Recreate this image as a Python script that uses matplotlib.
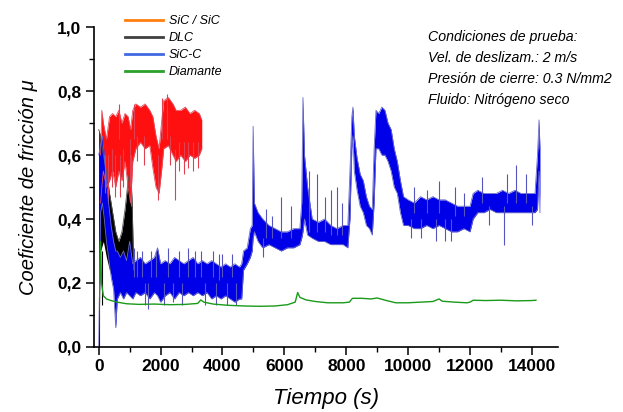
import matplotlib
matplotlib.use("Agg")
import matplotlib.pyplot as plt
from matplotlib.lines import Line2D
from matplotlib.ticker import MultipleLocator, FuncFormatter

plt.rcParams["font.family"] = ["Liberation Sans", "DejaVu Sans"]

# --- datos (tiempo en s, coeficiente de friccion) ---

# SiC / SiC (banda roja: limite inferior y superior)
sic_t = [60, 100, 150, 250, 350, 450, 550, 650, 750, 850, 950, 1030, 1100, 1200,
         1350, 1500, 1650, 1750, 1850, 1950, 2030, 2100, 2250, 2400, 2500, 2650,
         2800, 2950, 3100, 3250, 3330]
sic_lo = [0.45, 0.50, 0.55, 0.50, 0.52, 0.55, 0.50, 0.55, 0.52, 0.58, 0.50, 0.45,
          0.58, 0.62, 0.64, 0.62, 0.63, 0.56, 0.50, 0.48, 0.55, 0.62, 0.63, 0.60,
          0.58, 0.60, 0.58, 0.60, 0.59, 0.60, 0.62]
sic_hi = [0.60, 0.74, 0.70, 0.65, 0.72, 0.73, 0.72, 0.74, 0.70, 0.73, 0.72, 0.68,
          0.74, 0.76, 0.75, 0.76, 0.74, 0.72, 0.66, 0.62, 0.70, 0.77, 0.78, 0.76,
          0.74, 0.74, 0.75, 0.73, 0.74, 0.73, 0.71]
sic_pico_t = [200, 300, 420, 520, 700, 800, 1000, 1050, 1250, 1450, 1900, 2300,
              2450, 2600, 2750, 2900, 3050, 3200, 2050, 2200, 1150, 650]
sic_pico_lo = [0.48, 0.45, 0.50, 0.47, 0.47, 0.50, 0.50, 0.44, 0.58, 0.57, 0.46,
               0.57, 0.46, 0.55, 0.54, 0.56, 0.55, 0.56, 0.65, 0.65, 0.65, 0.65]
sic_pico_hi = [0.60, 0.60, 0.62, 0.60, 0.60, 0.62, 0.65, 0.60, 0.66, 0.66, 0.60,
               0.66, 0.62, 0.64, 0.64, 0.64, 0.64, 0.64, 0.78, 0.79, 0.76, 0.76]

# DLC
dlc_t = [0, 60, 150, 250, 350, 450, 550, 650, 750, 850, 950, 1030, 1080, 1130]
dlc_lo = [0.0, 0.30, 0.33, 0.28, 0.24, 0.22, 0.20, 0.20, 0.20, 0.21, 0.22, 0.24, 0.22, 0.19]
dlc_hi = [0.68, 0.66, 0.60, 0.55, 0.48, 0.42, 0.36, 0.33, 0.36, 0.43, 0.52, 0.56, 0.45, 0.24]

# SiC-C
sicc_t = [0, 60, 120, 180, 250, 320, 400, 480, 550, 600, 700, 800, 900, 1000,
          1100, 1200, 1350, 1500, 1650, 1800, 1900, 2000, 2150, 2300, 2450, 2600,
          2750, 2900, 3050, 3200, 3350, 3500, 3650, 3800, 3950, 4100, 4250, 4400,
          4550, 4620, 4680, 4800, 4900, 4960, 4990, 5030, 5150, 5300, 5500, 5700,
          5900, 6100, 6300, 6500, 6560, 6600, 6650, 6750, 6900, 7100, 7300, 7500,
          7700, 7900, 8050, 8120, 8180, 8215, 8260, 8350, 8450, 8550, 8650, 8750,
          8840, 8900, 8960, 9050, 9150, 9250, 9350, 9450, 9550, 9650, 9750, 9850,
          10000, 10200, 10400, 10600, 10800, 11000, 11200, 11400, 11600, 11800,
          12000, 12100, 12250, 12450, 12650, 12850, 13050, 13250, 13450, 13650,
          13850, 14100, 14180, 14230, 14260]
sicc_lo = [0.0, 0.42, 0.45, 0.40, 0.33, 0.28, 0.22, 0.18, 0.06, 0.15, 0.17, 0.15,
           0.17, 0.16, 0.15, 0.17, 0.16, 0.17, 0.15, 0.17, 0.16, 0.14, 0.16, 0.17,
           0.15, 0.17, 0.16, 0.17, 0.16, 0.17, 0.16, 0.17, 0.15, 0.16, 0.15, 0.16,
           0.15, 0.14, 0.15, 0.15, 0.24, 0.26, 0.28, 0.30, 0.34, 0.36, 0.33, 0.31,
           0.32, 0.31, 0.30, 0.31, 0.31, 0.32, 0.34, 0.36, 0.40, 0.35, 0.34, 0.33,
           0.33, 0.32, 0.32, 0.32, 0.31, 0.40, 0.62, 0.66, 0.55, 0.49, 0.44, 0.42,
           0.38, 0.37, 0.35, 0.45, 0.62, 0.62, 0.60, 0.60, 0.58, 0.55, 0.50, 0.48,
           0.42, 0.38, 0.38, 0.37, 0.37, 0.38, 0.37, 0.38, 0.37, 0.36, 0.36, 0.37,
           0.36, 0.40, 0.42, 0.42, 0.43, 0.42, 0.42, 0.42, 0.42, 0.42, 0.42, 0.42,
           0.43, 0.55, 0.42]
sicc_hi = [0.60, 0.63, 0.66, 0.60, 0.52, 0.45, 0.38, 0.33, 0.30, 0.30, 0.28, 0.30,
           0.27, 0.33, 0.26, 0.27, 0.28, 0.26, 0.27, 0.28, 0.31, 0.26, 0.27, 0.26,
           0.28, 0.27, 0.26, 0.27, 0.28, 0.26, 0.27, 0.26, 0.27, 0.26, 0.25, 0.26,
           0.25, 0.26, 0.25, 0.26, 0.30, 0.31, 0.37, 0.38, 0.69, 0.45, 0.42, 0.40,
           0.38, 0.37, 0.36, 0.36, 0.37, 0.37, 0.45, 0.78, 0.60, 0.50, 0.40, 0.39,
           0.40, 0.38, 0.37, 0.38, 0.38, 0.55, 0.72, 0.75, 0.66, 0.59, 0.54, 0.52,
           0.47, 0.44, 0.43, 0.62, 0.74, 0.73, 0.75, 0.74, 0.70, 0.68, 0.62, 0.58,
           0.52, 0.47, 0.46, 0.45, 0.47, 0.46, 0.47, 0.46, 0.46, 0.45, 0.44, 0.44,
           0.44, 0.48, 0.49, 0.48, 0.48, 0.48, 0.49, 0.48, 0.49, 0.48, 0.48, 0.48,
           0.60, 0.71, 0.62]
sicc_pico_t = [1150, 1250, 1400, 1500, 1600, 1700, 1850, 2100, 2250, 2400, 2600,
               2700, 2900, 3100, 3300, 3450, 3700, 3800, 3900, 4000, 4150, 4300,
               4450, 5300, 5400, 5600, 5900, 6230, 6800, 7050, 7300, 7500,
               7700, 7850, 10100, 10200, 10400, 10600, 10900, 11000, 11200, 11400,
               11500, 11800, 12400, 12600, 13100, 13200, 13500, 13800, 14000]
sicc_pico_lo = [0.22, 0.22, 0.22, 0.13, 0.12, 0.22, 0.22, 0.13, 0.22, 0.14, 0.22,
                0.13, 0.22, 0.22, 0.22, 0.13, 0.22, 0.13, 0.21, 0.22, 0.13, 0.22,
                0.13, 0.28, 0.34, 0.34, 0.34, 0.34, 0.36, 0.36, 0.36, 0.35,
                0.35, 0.35, 0.34, 0.42, 0.34, 0.42, 0.33, 0.42, 0.33, 0.33,
                0.41, 0.41, 0.45, 0.38, 0.32, 0.45, 0.45, 0.45, 0.38]
sicc_pico_hi = [0.31, 0.30, 0.30, 0.20, 0.20, 0.30, 0.30, 0.20, 0.31, 0.20, 0.30,
                0.20, 0.31, 0.30, 0.30, 0.20, 0.30, 0.20, 0.29, 0.29, 0.20, 0.29,
                0.20, 0.34, 0.43, 0.41, 0.47, 0.44, 0.55, 0.54, 0.47, 0.49,
                0.50, 0.45, 0.40, 0.50, 0.40, 0.49, 0.40, 0.52, 0.40, 0.40,
                0.50, 0.48, 0.53, 0.44, 0.44, 0.54, 0.57, 0.54, 0.44]

# Diamante
dia_t = [30, 60, 90, 150, 250, 400, 600, 900, 1300, 1800, 2300, 2800, 3200, 3300,
         3400, 3700, 4200, 4700, 5200, 5700, 6100, 6350, 6430, 6500, 6700, 7000,
         7400, 7900, 8100, 8200, 8500, 8800, 9000, 9300, 9600, 10000, 10400, 10800,
         11000, 11100, 11500, 11900, 12000, 12100, 12500, 13000, 13500, 14000, 14130]
dia_mu = [0.20, 0.33, 0.20, 0.16, 0.15, 0.145, 0.14, 0.135, 0.133, 0.134, 0.132,
          0.133, 0.136, 0.147, 0.14, 0.134, 0.13, 0.128, 0.127, 0.128, 0.132, 0.14,
          0.17, 0.155, 0.147, 0.142, 0.138, 0.138, 0.14, 0.152, 0.152, 0.15, 0.153,
          0.145, 0.138, 0.138, 0.14, 0.142, 0.15, 0.143, 0.14, 0.138, 0.14, 0.146,
          0.145, 0.146, 0.144, 0.145, 0.146]

etiquetas = ["SiC / SiC", "DLC", "SiC-C", "Diamante"]
colores_leyenda = ["#ff7f0e", "#404040", "#4169e1", "#2ca02c"]
condiciones = ["Condiciones de prueba:",
               "Vel. de deslizam.: 2 m/s",
               "Presión de cierre: 0.3 N/mm2",
               "Fluido: Nitrógeno seco"]

fig = plt.figure(figsize=(6.23, 4.12), dpi=100)
ax = fig.add_axes([0.151, 0.158, 0.745, 0.776])

# DLC (negro)
ax.fill_between(dlc_t, dlc_lo, dlc_hi, color="black", lw=0)
ax.plot(dlc_t, dlc_hi, color="#555555", lw=0.6)
ax.vlines([20, 100], [0.0, 0.13], [0.16, 0.30], color="black", lw=0.8)

# SiC / SiC (rojo)
ax.fill_between(sic_t, sic_lo, sic_hi, color="#ff1010", lw=0)
ax.plot(sic_t, sic_hi, color="#e05060", lw=0.6)
ax.plot(sic_t, sic_lo, color="#e05060", lw=0.6)
ax.vlines(sic_pico_t, sic_pico_lo, sic_pico_hi, color="#e04050", lw=0.8)

# SiC-C (azul)
ax.fill_between(sicc_t, sicc_lo, sicc_hi, color="#0000e8", lw=0)
ax.plot(sicc_t, sicc_hi, color="#6a6ac8", lw=0.6)
ax.plot(sicc_t, sicc_lo, color="#6a6ac8", lw=0.6)
ax.vlines(sicc_pico_t, sicc_pico_lo, sicc_pico_hi, color="#5555c0", lw=0.8)

# Diamante (verde)
ax.plot(dia_t, dia_mu, color="#1a9a1a", lw=1.0)

ax.set_xlim(-150, 14850)
ax.set_ylim(0, 1.0)
ax.xaxis.set_major_locator(MultipleLocator(2000))
ax.xaxis.set_minor_locator(MultipleLocator(1000))
ax.yaxis.set_major_locator(MultipleLocator(0.2))
ax.yaxis.set_minor_locator(MultipleLocator(0.1))
ax.yaxis.set_major_formatter(FuncFormatter(lambda v, p: f"{v:.1f}".replace(".", ",")))
ax.spines["top"].set_visible(False)
ax.spines["right"].set_visible(False)
for s in ["left", "bottom"]:
    ax.spines[s].set_linewidth(1.2)
ax.tick_params(which="major", direction="out", length=6, width=1.1, labelsize=12.5, pad=3)
ax.tick_params(which="minor", direction="out", length=3.5, width=1.0)
for lab in ax.get_xticklabels() + ax.get_yticklabels():
    lab.set_fontweight("bold")

ax.set_xlabel("Tiempo (s)", fontsize=16, style="italic", labelpad=10)
ax.set_ylabel("Coeficiente de fricción μ", fontsize=14.5, style="italic", labelpad=14)

handles = [Line2D([], [], color=c, lw=2) for c in colores_leyenda]
fig.legend(handles, etiquetas, loc="upper left", bbox_to_anchor=(0.183, 0.99),
           frameon=False, prop={"style": "italic", "size": 9}, handlelength=3.0,
           labelspacing=0.4, handletextpad=0.5)

for i, linea in enumerate(condiciones):
    fig.text(0.687, 1 - (37 + 21 * i) / 412, linea, fontsize=10.2, style="italic",
             va="center", ha="left")

plt.savefig("out.png", dpi=100)
print("Salvo: out.png")
